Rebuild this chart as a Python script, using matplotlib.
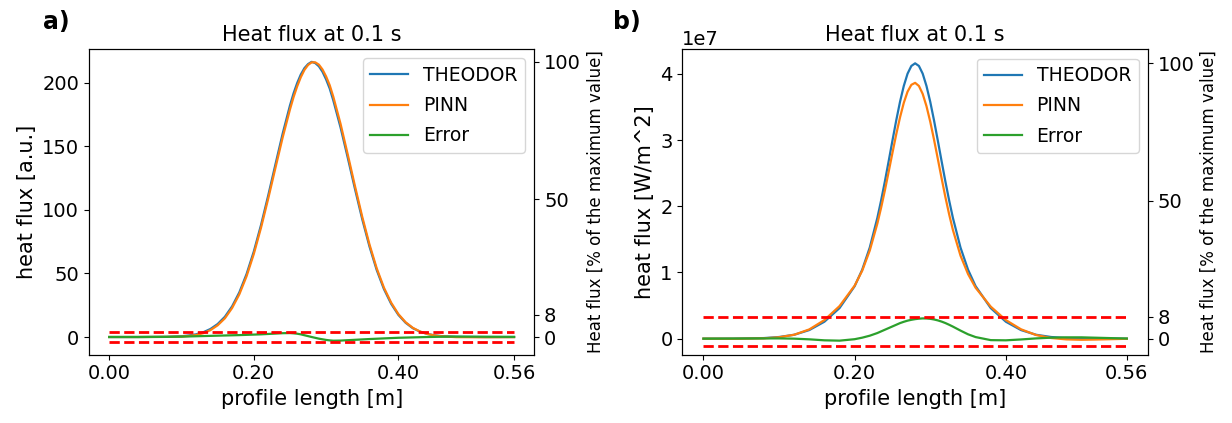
import numpy as np
import matplotlib
matplotlib.use("Agg")
import matplotlib.pyplot as plt

# ---- panel a) : heat flux in arbitrary units ----
x_a = [0.00, 0.04, 0.08, 0.10, 0.11, 0.12, 0.13, 0.14, 0.15, 0.16, 0.17, 0.18, 0.19,
       0.20, 0.21, 0.22, 0.23, 0.24, 0.25, 0.255, 0.26, 0.265, 0.27, 0.275, 0.28,
       0.285, 0.29, 0.295, 0.30, 0.305, 0.31,
       0.32, 0.33, 0.34, 0.35, 0.36, 0.37, 0.38, 0.39, 0.40, 0.41, 0.42, 0.43,
       0.44, 0.45, 0.46, 0.48, 0.52, 0.56]
theodor_a = [0.0, 0.0, 0.2, 0.6, 1.2, 2.1, 3.7, 6.3, 10.2, 15.9, 24.1, 35.1, 49.5,
             67.2, 88.1, 111.4, 135.9, 160.1, 182.0, 191.6, 199.7, 206.4, 211.4, 214.6, 216.4,
             215.4, 212.9, 208.6, 202.6, 195.4, 186.0,
             164.8, 140.9, 116.3, 92.6, 71.2, 52.7, 37.7, 26.1, 17.4, 11.2, 6.9, 4.2,
             2.4, 1.3, 0.7, 0.2, 0.0, 0.0]
pinn_a = [0.0, 0.0, 0.1, 0.3, 0.8, 1.5, 3.0, 5.4, 9.2, 14.7, 22.8, 33.6, 47.8,
          65.3, 86.0, 109.0, 133.2, 157.1, 178.9, 188.7, 197.1, 204.3, 210.0, 213.9, 216.0,
          216.0, 214.2, 210.4, 204.9, 198.0, 188.9,
          167.6, 143.4, 118.5, 94.5, 72.8, 54.0, 38.8, 27.0, 18.0, 11.6, 7.2, 4.3,
          2.4, 1.2, 0.5, -0.1, -0.2, -0.1]
error_a = [0.0, 0.0, 0.1, 0.3, 0.45, 0.6, 0.75, 0.9, 1.05, 1.2, 1.35, 1.5, 1.7,
           1.9, 2.1, 2.4, 2.7, 3.0, 3.1, 2.9, 2.6, 2.1, 1.4, 0.7, 0.0,
           -0.65, -1.3, -1.8, -2.3, -2.65, -2.9,
           -2.8, -2.5, -2.2, -1.9, -1.6, -1.35, -1.1, -0.85, -0.6, -0.45, -0.3, -0.15,
           0.0, 0.1, 0.2, 0.3, 0.2, 0.1]
band_a = [3.9, -3.9]
peak_a = 216.5
ylim_a = (-13.9, 226.5)

# ---- panel b) : heat flux in W/m^2 (values in 1e7) ----
x_b = [0.00, 0.04, 0.08, 0.10, 0.12, 0.14, 0.16, 0.18, 0.20, 0.21, 0.22, 0.23,
       0.235, 0.24, 0.245, 0.25, 0.255, 0.26, 0.265, 0.27, 0.275, 0.28, 0.285, 0.29,
       0.295, 0.30, 0.305, 0.31, 0.315, 0.32, 0.325, 0.33, 0.34, 0.35, 0.36, 0.38,
       0.40, 0.42, 0.44, 0.46, 0.48, 0.50, 0.52, 0.56]
theodor_b = [0.000, 0.000, 0.009, 0.025, 0.059, 0.130, 0.256, 0.462, 0.793, 1.042, 1.377, 1.823,
             2.088, 2.376, 2.682, 2.993, 3.297, 3.578, 3.818, 4.004, 4.120, 4.160, 4.120, 4.004,
             3.818, 3.578, 3.297, 2.993, 2.682, 2.376, 2.088, 1.823, 1.377, 1.042, 0.793, 0.462,
             0.256, 0.130, 0.059, 0.025, 0.009, 0.003, 0.001, 0.000]
pinn_b = [0.000, -0.002, 0.005, 0.021, 0.059, 0.140, 0.281, 0.492, 0.801, 1.027, 1.332, 1.738,
          1.978, 2.241, 2.522, 2.808, 3.087, 3.343, 3.563, 3.732, 3.835, 3.865, 3.818, 3.698,
          3.513, 3.278, 3.007, 2.717, 2.424, 2.140, 1.878, 1.641, 1.255, 0.976, 0.769, 0.484,
          0.281, 0.142, 0.055, 0.010, -0.011, -0.017, -0.013, -0.002]
error_b = [0.000, 0.002, 0.004, 0.004, 0.000, -0.010, -0.025, -0.030, -0.008, 0.015, 0.045, 0.085,
           0.110, 0.135, 0.160, 0.185, 0.210, 0.235, 0.255, 0.272, 0.285, 0.295, 0.302, 0.306,
           0.305, 0.300, 0.290, 0.276, 0.258, 0.236, 0.210, 0.182, 0.122, 0.066, 0.024, -0.022,
           -0.025, -0.012, 0.004, 0.015, 0.020, 0.020, 0.014, 0.002]
band_b = [0.328, -0.115]
peak_b = 4.16
ylim_b = (-0.242, 4.372)
unit_b = 1e7

xticks = [0.0, 0.2, 0.4, 0.56]
xticklabels = ["0.00", "0.20", "0.40", "0.56"]
pct_ticks = [0, 8, 50, 100]

TICK_FS = 14
LABEL_FS = 15


def panel(fig, rect, x, theodor, pinn, err, band, peak, ylim, ylabel, scale=1.0):
    ax = fig.add_axes(rect)
    x = np.asarray(x)
    ax.plot(x, np.asarray(theodor) * scale, color="tab:blue", lw=1.6, label="THEODOR")
    ax.plot(x, np.asarray(pinn) * scale, color="tab:orange", lw=1.6, label="PINN")
    ax.plot(x, np.asarray(err) * scale, color="tab:green", lw=1.6, label="Error")
    for v in band:
        ax.plot([x[0], x[-1]], [v * scale, v * scale], "r--", lw=2)
    ax.set_ylim(ylim[0] * scale, ylim[1] * scale)
    ax.set_xticks(xticks)
    ax.set_xticklabels(xticklabels)
    ax.tick_params(labelsize=TICK_FS)
    ax.yaxis.get_offset_text().set_fontsize(TICK_FS)
    ax.set_xlabel("profile length [m]", fontsize=LABEL_FS)
    ax.set_ylabel(ylabel, fontsize=LABEL_FS)
    ax.set_title("Heat flux at 0.1 s", fontsize=LABEL_FS)
    ax.legend(fontsize=13.5, loc="upper right", labelspacing=0.6)

    # right axis: percent of the maximum
    ax2 = ax.twinx()
    ax2.set_ylim(ylim[0] / peak * 100, ylim[1] / peak * 100)
    ax2.set_yticks(pct_ticks)
    ax2.tick_params(labelsize=TICK_FS)
    ax2.set_ylabel("Heat flux [% of the maximum value]", fontsize=12)
    return ax


fig = plt.figure(figsize=(12.32, 4.23), dpi=100)
panel(fig, [0.0722, 0.1615, 0.3615, 0.7227], x_a, theodor_a, pinn_a, error_a,
      band_a, peak_a, ylim_a, "heat flux [a.u.]")
panel(fig, [0.5538, 0.1615, 0.378, 0.7220], x_b, theodor_b, pinn_b, error_b,
      band_b, peak_b, ylim_b, "heat flux [W/m^2]", scale=unit_b)

fig.text(56 / 1232, 1 - 22 / 423, "a)", fontsize=17, fontweight="bold", ha="center", va="center")
fig.text(627 / 1232, 1 - 22 / 423, "b)", fontsize=17, fontweight="bold", ha="center", va="center")

fig.savefig("out.png", dpi=100)
